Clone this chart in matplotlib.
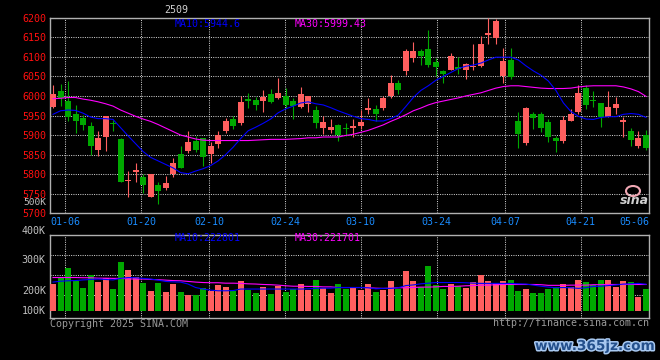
import matplotlib
matplotlib.use("Agg")
import numpy as np
import matplotlib.pyplot as plt
import matplotlib.patheffects as pe
from matplotlib.patches import Ellipse
from matplotlib.transforms import blended_transform_factory

W, H, DPI = 660, 360, 100
FONT = "DejaVu Sans Mono"
RED, GREEN = "#ff5f5f", "#00a800"
GRID, BORDER = "#c8c8c8", "#b0b0b0"

# ---- daily K data ----
opens = [5971, 6012, 5986, 5953, 5943, 5923, 5862, 5895, 5931, 5890,
         5782, 5806, 5793, 5742, 5772, 5765, 5801, 5851, 5860, 5884,
         5892, 5851, 5877, 5911, 5940, 5930, 5991, 5989, 5986, 6004,
         5995, 5999, 5986, 5972, 5980, 5965, 5918, 5912, 5925, 5918,
         5918, 5923, 5964, 5966, 5969, 5999, 6032, 6065, 6097, 6115,
         6119, 6086, 6063, 6066, 6075, 6066, 6074, 6077, 6155, 6147,
         6051, 6091, 5936, 5879, 5954, 5954, 5933, 5892, 5884, 5935,
         5959, 6020, 5989, 5981, 5947, 5970, 5933, 5911, 5872, 5901]
highs = [6027, 6030, 6037, 5976, 5951, 5934, 5910, 5948, 5938, 5892,
         5808, 5828, 5800, 5800, 5779, 5795, 5841, 5872, 5910, 5897,
         5892, 5882, 5910, 5943, 5948, 6001, 6007, 5997, 6014, 6017,
         6045, 6020, 5994, 6022, 6001, 5974, 5949, 5940, 5928, 5930,
         5940, 5965, 5994, 5976, 6001, 6053, 6042, 6120, 6137, 6120,
         6168, 6098, 6067, 6109, 6099, 6085, 6132, 6152, 6200, 6197,
         6123, 6122, 5959, 5972, 5959, 5959, 5940, 5897, 5949, 5967,
         6027, 6027, 6012, 5981, 6012, 5997, 5945, 5919, 5911, 5912]
lows = [5970, 5975, 5936, 5906, 5913, 5850, 5847, 5860, 5911, 5781,
        5742, 5781, 5752, 5742, 5724, 5760, 5792, 5816, 5855, 5857,
        5822, 5828, 5866, 5904, 5915, 5925, 5969, 5963, 5959, 5983,
        5992, 5969, 5940, 5968, 5959, 5919, 5902, 5905, 5885, 5898,
        5895, 5915, 5953, 5936, 5963, 5995, 6004, 6053, 6088, 6078,
        6074, 6052, 6032, 6066, 6057, 6043, 6066, 6074, 6134, 6132,
        6032, 6044, 5867, 5875, 5915, 5907, 5882, 5856, 5879, 5935,
        5953, 5966, 5971, 5921, 5947, 5953, 5895, 5872, 5868, 5861]
closes = [6004, 5995, 5946, 5935, 5925, 5872, 5892, 5948, 5929, 5781,
          5784, 5811, 5773, 5800, 5757, 5777, 5828, 5816, 5882, 5862,
          5843, 5872, 5901, 5935, 5923, 5984, 5987, 5976, 5997, 5985,
          6007, 5977, 5974, 6004, 6001, 5930, 5933, 5921, 5901, 5916,
          5923, 5934, 5969, 5953, 5995, 6032, 6014, 6115, 6115, 6103,
          6079, 6073, 6056, 6101, 6068, 6081, 6077, 6132, 6162, 6191,
          6089, 6048, 5902, 5969, 5943, 5918, 5895, 5884, 5939, 5954,
          6008, 5977, 5987, 5946, 5973, 5979, 5938, 5887, 5893, 5867]
ma10 = [5953, 5962, 5964, 5963, 5956, 5946, 5942, 5942, 5940, 5919,
        5898, 5878, 5858, 5843, 5834, 5825, 5816, 5804, 5801, 5808,
        5814, 5822, 5834, 5850, 5869, 5891, 5911, 5920, 5930, 5941,
        5957, 5967, 5974, 5982, 5985, 5980, 5977, 5970, 5962, 5955,
        5948, 5942, 5940, 5936, 5936, 5942, 5951, 5973, 5996, 6014,
        6026, 6040, 6050, 6060, 6070, 6076, 6079, 6084, 6092, 6099,
        6099, 6099, 6092, 6077, 6064, 6053, 6038, 6014, 5982, 5960,
        5948, 5941, 5940, 5945, 5947, 5947, 5953, 5955, 5953, 5945]
ma30 = [5993, 5994, 5996, 5996, 5992, 5989, 5985, 5980, 5974, 5964,
        5956, 5948, 5941, 5935, 5927, 5918, 5909, 5900, 5895, 5890,
        5887, 5886, 5886, 5886, 5886, 5886, 5886, 5887, 5888, 5889,
        5889, 5889, 5890, 5891, 5893, 5893, 5895, 5895, 5895, 5899,
        5902, 5907, 5912, 5919, 5926, 5935, 5943, 5952, 5962, 5969,
        5977, 5983, 5987, 5991, 5995, 6000, 6004, 6008, 6014, 6020,
        6024, 6026, 6026, 6024, 6022, 6020, 6019, 6019, 6019, 6020,
        6023, 6025, 6026, 6026, 6026, 6026, 6023, 6018, 6011, 5999]

# volume in thousands
volume = [225.6, 257.8, 299.2, 238.0, 207.2, 265.6, 234.8, 253.2, 201.2, 325.4,
          288.6, 256.4, 228.8, 193.4, 228.8, 188.8, 224.2, 187.4, 173.6, 173.6,
          207.2, 192.0, 219.6, 210.4, 190.6, 238.0, 196.6, 182.8, 210.4, 178.2,
          215.0, 188.8, 201.2, 224.2, 196.6, 242.6, 207.2, 182.8, 224.2, 202.6,
          210.4, 198.0, 224.2, 187.4, 196.6, 238.0, 201.2, 284.0, 238.0, 211.8,
          307.0, 219.6, 201.2, 224.2, 215.0, 207.2, 233.4, 265.6, 238.0, 228.8,
          238.0, 242.6, 192.0, 201.2, 182.8, 182.8, 201.2, 210.4, 224.2, 210.4,
          242.6, 233.4, 219.6, 242.6, 242.6, 210.4, 238.0, 233.4, 164.4, 201.2]
vol_ma10 = [233, 237, 239, 240, 243, 245, 247, 245, 243, 250,
            254, 253, 250, 247, 242, 236, 234, 233, 224, 208,
            201, 196, 193, 193, 194, 201, 201, 201, 201, 201,
            201, 201, 201, 201, 202, 204, 205, 205, 208, 208,
            208, 208, 207, 202, 204, 204, 207, 217, 220, 225,
            228, 231, 231, 231, 231, 230, 228, 227, 227, 227,
            227, 227, 225, 224, 219, 214, 210, 207, 208, 207,
            204, 207, 213, 214, 217, 220, 224, 225, 227, 223]
vol_ma30 = [254, 254, 254, 254, 253, 253, 251, 251, 250, 250,
            248, 247, 247, 245, 244, 242, 240, 239, 236, 233,
            231, 230, 230, 228, 228, 227, 225, 224, 222, 221,
            219, 216, 214, 214, 213, 213, 211, 211, 208, 208,
            208, 208, 207, 205, 204, 205, 207, 207, 208, 210,
            210, 211, 213, 213, 214, 216, 217, 219, 219, 221,
            222, 222, 222, 222, 222, 221, 218, 218, 218, 219,
            219, 219, 221, 221, 222, 222, 222, 222, 222, 222]

date_labels = ["01-06", "01-20", "02-10", "02-24", "03-10", "03-24", "04-07", "04-21"]
date_slots = [2, 12, 21, 31, 41, 51, 60, 70]
last_label = "05-06"
price_ticks = list(range(5700, 6201, 50))
vol_labels = ["100K", "200K", "300K", "400K"]
vol_label_pos = [101, 193, 333, 469]
vol_grid = [173.6, 265.6, 357.6]
VOL_BASE = 100


def rect(x0, y0, x1, y1):
    return [x0 / W, 1 - y1 / H, (x1 - x0) / W, (y1 - y0) / H]


def grid_axes(fig, r, ylim):
    g = fig.add_axes(r)
    g.set_facecolor("black")
    g.set_xlim(0, 79)
    g.set_ylim(*ylim)
    for s in g.spines.values():
        s.set_color(BORDER)
        s.set_linewidth(1.0)
    g.set_xticks(date_slots)
    g.grid(True, color=GRID, linestyle=(0, (1, 1.2)), linewidth=0.75)
    g.tick_params(length=0, labelsize=7.2)
    return g


def overlay(fig, r, ylim):
    a = fig.add_axes(r)
    a.set_facecolor("none")
    a.set_xlim(-0.4, 79.4)
    a.set_ylim(*ylim)
    a.axis("off")
    return a


fig = plt.figure(figsize=(W / DPI, H / DPI), dpi=DPI, facecolor="black")
plt.rcParams["font.family"] = FONT

o, h, l, c = map(np.array, (opens, highs, lows, closes))
x = np.arange(len(c))
colors = np.where(c >= o, RED, GREEN)

# ---- price panel ----
main_r = rect(50, 17.7, 649, 213.3)
gx = grid_axes(fig, main_r, (5700, 6200))
gx.set_yticks(price_ticks)
gx.set_yticklabels([str(p) for p in price_ticks], color="#ff1010")
gx.set_xticklabels(date_labels, color="#1a8cff")
gx.tick_params(axis="y", pad=2.9)
gx.tick_params(axis="x", pad=2.6)
gx.text(1.0, -0.018, last_label, transform=gx.transAxes, ha="right", va="top",
        color="#1a8cff", fontsize=7.2)

ax = overlay(fig, main_r, (5700, 6200))
ax.vlines(x, l, h, colors=colors, linewidth=0.8)
ax.bar(x, np.maximum(np.abs(c - o), 2.5), bottom=np.minimum(o, c), width=0.8,
       color=colors, linewidth=0)
ax.plot(x, ma30, color="#ff00ff", linewidth=0.8)
ax.plot(x, ma10, color="#0000ff", linewidth=0.8)

# ---- volume panel ----
vol_r = rect(50, 234.7, 649, 318)
vlim = (67.8, 451.0)
gv = grid_axes(fig, vol_r, vlim)
gv.set_yticks(vol_grid)
gv.set_yticklabels([])
gv.set_xticklabels([])
tr = blended_transform_factory(gv.transAxes, gv.transData)
for lab, pos in zip(vol_labels, vol_label_pos):
    gv.text(-0.007, pos, lab, transform=tr, ha="right", va="center",
            color="#c0c0c0", fontsize=7.2)

av = overlay(fig, vol_r, vlim)
av.bar(x, np.array(volume) - VOL_BASE, bottom=VOL_BASE, width=0.8,
       color=colors, linewidth=0)
av.plot(x, vol_ma30, color="#ff00ff", linewidth=0.8)
av.plot(x, vol_ma10, color="#0000ff", linewidth=0.8)

# ---- texts ----
def ftext(px, py, s, **kw):
    kw.setdefault("fontsize", 7.2)
    kw.setdefault("va", "center")
    return fig.text(px / W, 1 - py / H, s, **kw)

ftext(176, 10, "2509", color="#d0d0d0", ha="center")
ftext(175, 23.7, "MA10:5944.6", color="#0000ff")
ftext(295, 23.7, "MA30:5999.43", color="#ff00ff")
ftext(175, 238.3, "MA10:222801", color="#0000ff")
ftext(295, 238.3, "MA30:221701", color="#ff00ff")
ftext(46, 202.5, "500K", color="#c0c0c0", ha="right", fontsize=6.8)
ftext(50, 323.7, "Copyright 2025 SINA.COM", color="#9a9a9a")
ftext(649, 323.5, "http://finance.sina.com.cn", color="#9a9a9a", ha="right")

# sina logo
fig.add_artist(Ellipse((633 / W, 1 - 191 / H), 14 / W, 10 / H, fill=False,
                       edgecolor="#f0a8b4", linewidth=1.5))
ftext(634, 201, "sina", color="#d0d0d0", family="DejaVu Sans", fontsize=9,
      fontweight="bold", style="italic", ha="center")

# watermark
wm = ftext(595, 346, "www.365jz.com", color="#24508c", family="DejaVu Sans",
           fontsize=9.8, fontweight="bold", ha="center")
wm.set_path_effects([pe.withStroke(linewidth=2.2, foreground="#a8c8f0")])

fig.savefig("out.png", dpi=DPI, facecolor="black")
